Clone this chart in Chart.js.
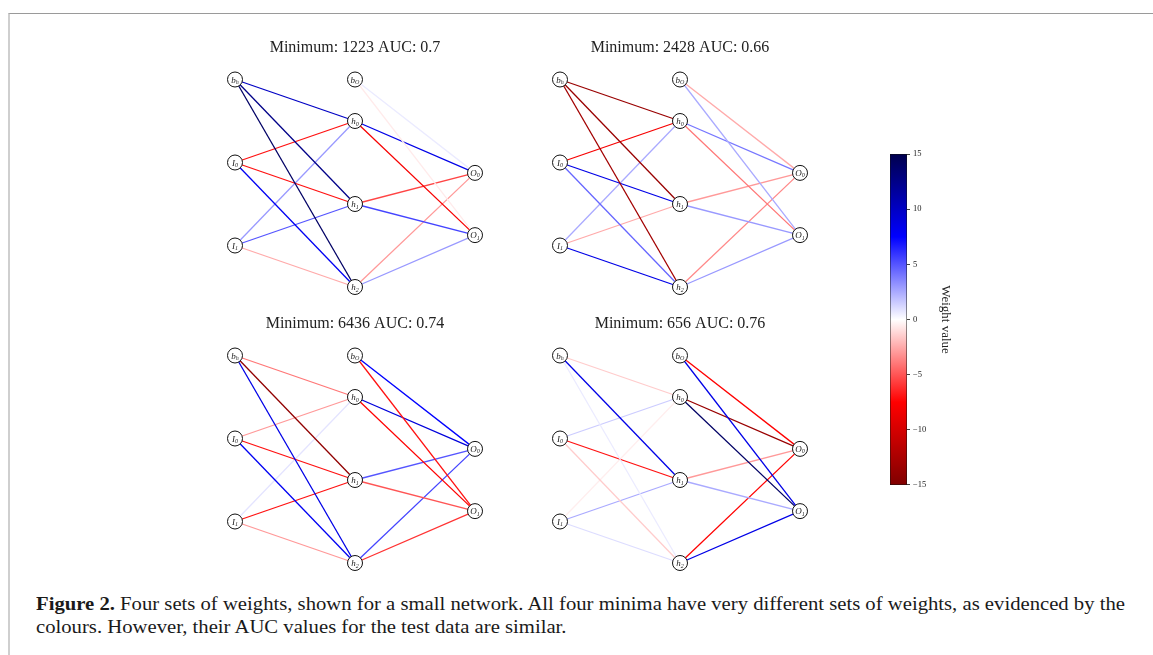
<!DOCTYPE html>
<html>
<head>
<meta charset="utf-8">
<script src="https://cdn.jsdelivr.net/npm/chart.js@4.4.1/dist/chart.umd.min.js"></script>
<style>
  html, body { margin: 0; padding: 0; background: #fff; }
  body { width: 1153px; height: 655px; position: relative; overflow: hidden; }
  #frame { position: absolute; left: 8px; top: 13px; right: -2px; bottom: -2px;
           border-top: 1px solid #9a9a9a; border-left: 2px solid #cfcfcf; }
  canvas { position: absolute; }
  #caption { position: absolute; left: 36px; top: 592px; font-family: 'Liberation Serif', serif;
             font-size: 19px; line-height: 23px; color: #1a1a1a; white-space: nowrap;
             transform-origin: 0 0; }
</style>
</head>
<body>
<div id="frame"></div>
<canvas id="net1223" width="300" height="265" style="left:205px;top:35px"></canvas>
<canvas id="net2428" width="300" height="265" style="left:530px;top:35px"></canvas>
<canvas id="net6436" width="300" height="265" style="left:205px;top:311px"></canvas>
<canvas id="net656"  width="300" height="265" style="left:530px;top:311px"></canvas>
<canvas id="cbar" width="77" height="347" style="left:890px;top:146px"></canvas>
<div id="caption"><span id="capLine1"><b>Figure 2.</b> Four sets of weights, shown for a small network. All four minima have very different sets of weights, as evidenced by the</span><br>colours. However, their AUC values for the test data are similar.</div>
<script>
// ---- network structure ----
const inputNodes  = ['b_h', 'I_0', 'I_1'];
const hiddenNodes = ['h_0', 'h_1', 'h_2'];
const hiddenBias  = 'b_O';
const outputNodes = ['O_0', 'O_1'];

// connections, in the order the weight arrays use
const edges = [
  ['b_h', 'h_0'], ['b_h', 'h_1'], ['b_h', 'h_2'],
  ['I_0', 'h_0'], ['I_0', 'h_1'], ['I_0', 'h_2'],
  ['I_1', 'h_0'], ['I_1', 'h_1'], ['I_1', 'h_2'],
  ['b_O', 'O_0'], ['b_O', 'O_1'],
  ['h_0', 'O_0'], ['h_0', 'O_1'],
  ['h_1', 'O_0'], ['h_1', 'O_1'],
  ['h_2', 'O_0'], ['h_2', 'O_1']
];

// ---- weights of the four minima ----
const minimaIds = [1223, 2428, 6436, 656];
const aucValues = [0.7, 0.66, 0.74, 0.76];
const weights1223 = [10, 12.5, 14, -7, -7, 8, 3, 5, -2.5, 0.6, -0.6, 8.5, -8, -5.5, 5.5, -3, 3];
const weights2428 = [-13.5, -13.5, -13, -8, 8.5, 4.5, 2.5, -2.5, 8.5, -2.5, 2.5, 4, -4, -3, 3, -3.5, 3];
const weights6436 = [-4, -14, 8.5, -3, -7, 8, 0.8, -7, -3, 7.5, -7, 9, -7.5, 5, -5, 5.5, -6];
const weights656  = [-1.5, 8.5, 0.6, 1.5, -7, -1.5, -0.5, 2.5, 1, -7.5, 8.5, -13.5, 14, -3, 2.5, -7.5, 8.5];

// colour scale limits and ticks
const weightMin = -15, weightMax = 15;
const cbarTicks = [-15, -10, -5, 0, 5, 10, 15];

// ---- diverging colour map (dark blue > blue > white > red > dark red) ----
const cmapStops = [
  [0.00, [0, 0, 77]],
  [0.25, [0, 0, 255]],
  [0.50, [255, 255, 255]],
  [0.75, [255, 0, 0]],
  [1.00, [128, 0, 0]]
];
function weightColor(w) {
  let s = (weightMax - w) / (weightMax - weightMin);
  s = Math.max(0, Math.min(1, s));
  for (let i = 1; i < cmapStops.length; i++) {
    const [s0, c0] = cmapStops[i - 1], [s1, c1] = cmapStops[i];
    if (s <= s1) {
      const t = (s - s0) / (s1 - s0);
      const c = c0.map((v, k) => Math.round(v + (c1[k] - v) * t));
      return `rgb(${c[0]},${c[1]},${c[2]})`;
    }
  }
  return 'rgb(128,0,0)';
}

// ---- node layout: layers side by side, nodes stacked within a layer ----
function layoutLayer(names, x, centre, spacing) {
  const out = {};
  names.forEach((n, i) => { out[n] = { x, y: centre + ((names.length - 1) / 2 - i) * spacing }; });
  return out;
}
const nodePos = Object.assign(
  layoutLayer(inputNodes, 0, 0.5, 1),
  layoutLayer(hiddenNodes, 1, 0, 1),
  layoutLayer(outputNodes, 2, 0, 0.75)
);
nodePos[hiddenBias] = { x: 1, y: nodePos[hiddenNodes[0]].y + 0.5 };
const allNodes = [...inputNodes, hiddenBias, ...hiddenNodes, ...outputNodes];

const serif = "'Liberation Serif', 'DejaVu Serif', serif";

// draws the node names (letter with subscript) inside the circles
const nodeLabelPlugin = {
  id: 'nodeLabels',
  afterDatasetsDraw(chart) {
    const meta = chart.getDatasetMeta(chart.data.datasets.length - 1);
    const ctx = chart.ctx;
    ctx.save();
    ctx.fillStyle = '#222';
    ctx.textBaseline = 'alphabetic';
    ctx.textAlign = 'left';
    allNodes.forEach((name, i) => {
      const p = meta.data[i];
      const [main, sub] = name.split('_');
      ctx.font = `italic 9px ${serif}`;
      const wm = ctx.measureText(main).width;
      ctx.font = `italic 6px ${serif}`;
      const ws = ctx.measureText(sub).width;
      const x0 = p.x - (wm + ws) / 2;
      ctx.font = `italic 9px ${serif}`;
      ctx.fillText(main, x0, p.y + 3);
      ctx.font = `italic 6px ${serif}`;
      ctx.fillText(sub, x0 + wm, p.y + 4.5);
    });
    ctx.restore();
  }
};

function drawNetwork(canvasId, minimum, auc, weights) {
  const edgeSets = edges.map((e, i) => ({
    data: [nodePos[e[0]], nodePos[e[1]]],
    showLine: true,
    borderColor: weightColor(weights[i]),
    borderWidth: 1.3,
    pointRadius: 0,
    order: 1,
    clip: false
  }));
  const nodeSet = {
    data: allNodes.map(n => nodePos[n]),
    showLine: false,
    pointRadius: 7.5,
    pointBackgroundColor: '#fff',
    pointBorderColor: '#111',
    pointBorderWidth: 1,
    order: 0,
    clip: false
  };
  new Chart(document.getElementById(canvasId), {
    type: 'scatter',
    data: { datasets: [...edgeSets, nodeSet] },
    options: {
      responsive: false,
      animation: false,
      events: [],
      layout: { padding: 0, autoPadding: false },
      plugins: {
        legend: { display: false },
        tooltip: { enabled: false },
        title: {
          display: true,
          text: `Minimum: ${minimum} AUC: ${auc}`,
          font: { family: serif, size: 16, weight: 'normal', lineHeight: 1.125 },
          color: '#222',
          padding: { top: 4, bottom: 8 }
        }
      },
      scales: {
        x: { type: 'linear', display: false, min: -0.25, max: 2.25 },
        y: { type: 'linear', display: false, min: -1.1566, max: 1.6747 }
      }
    },
    plugins: [nodeLabelPlugin]
  });
}

const weightSets = [weights1223, weights2428, weights6436, weights656];
minimaIds.forEach((id, k) => drawNetwork('net' + id, id, aucValues[k], weightSets[k]));

// ---- colour bar ----
new Chart(document.getElementById('cbar'), {
  type: 'bar',
  data: {
    labels: [''],
    datasets: [{
      data: [[weightMin, weightMax]],
      backgroundColor(c) {
        const chart = c.chart;
        if (!chart.chartArea) return '#fff';
        const ys = chart.scales.y;
        const top = ys.getPixelForValue(weightMax), bottom = ys.getPixelForValue(weightMin);
        const g = chart.ctx.createLinearGradient(0, top, 0, bottom);
        for (let k = 0; k <= 60; k++) {
          const w = weightMax - k * (weightMax - weightMin) / 60;
          g.addColorStop(k / 60, weightColor(w));
        }
        return g;
      },
      borderColor: '#111',
      borderWidth: 0.8,
      borderSkipped: false,
      barPercentage: 1,
      categoryPercentage: 1
    }]
  },
  options: {
    responsive: false,
    animation: false,
    events: [],
    layout: { padding: 0, autoPadding: false },
    plugins: { legend: { display: false }, tooltip: { enabled: false } },
    scales: {
      x: { display: false },
      y: {
        position: 'right',
        min: weightMin,
        max: weightMax,
        afterBuildTicks(scale) { scale.ticks = cbarTicks.map(v => ({ value: v })); },
        afterFit(scale) { scale.width = 60; },
        ticks: {
          font: { family: serif, size: 8.5 },
          color: '#222',
          padding: 3,
          callback: v => (v < 0 ? '\u2212' + Math.abs(v) : String(v))
        },
        grid: { drawOnChartArea: false, tickLength: 3, color: '#111', lineWidth: 0.8 },
        border: { display: false },
        title: {
          display: true,
          text: 'Weight value',
          font: { family: serif, size: 13 },
          color: '#222',
          padding: { top: 14, bottom: 0 }
        }
      }
    }
  }
});

// stretch the caption so its first line spans the text column
const cap = document.getElementById('caption');
const line1 = document.getElementById('capLine1');
const targetWidth = 1089;
cap.style.transform = `scaleX(${targetWidth / line1.getBoundingClientRect().width})`;
</script>
</body>
</html>
